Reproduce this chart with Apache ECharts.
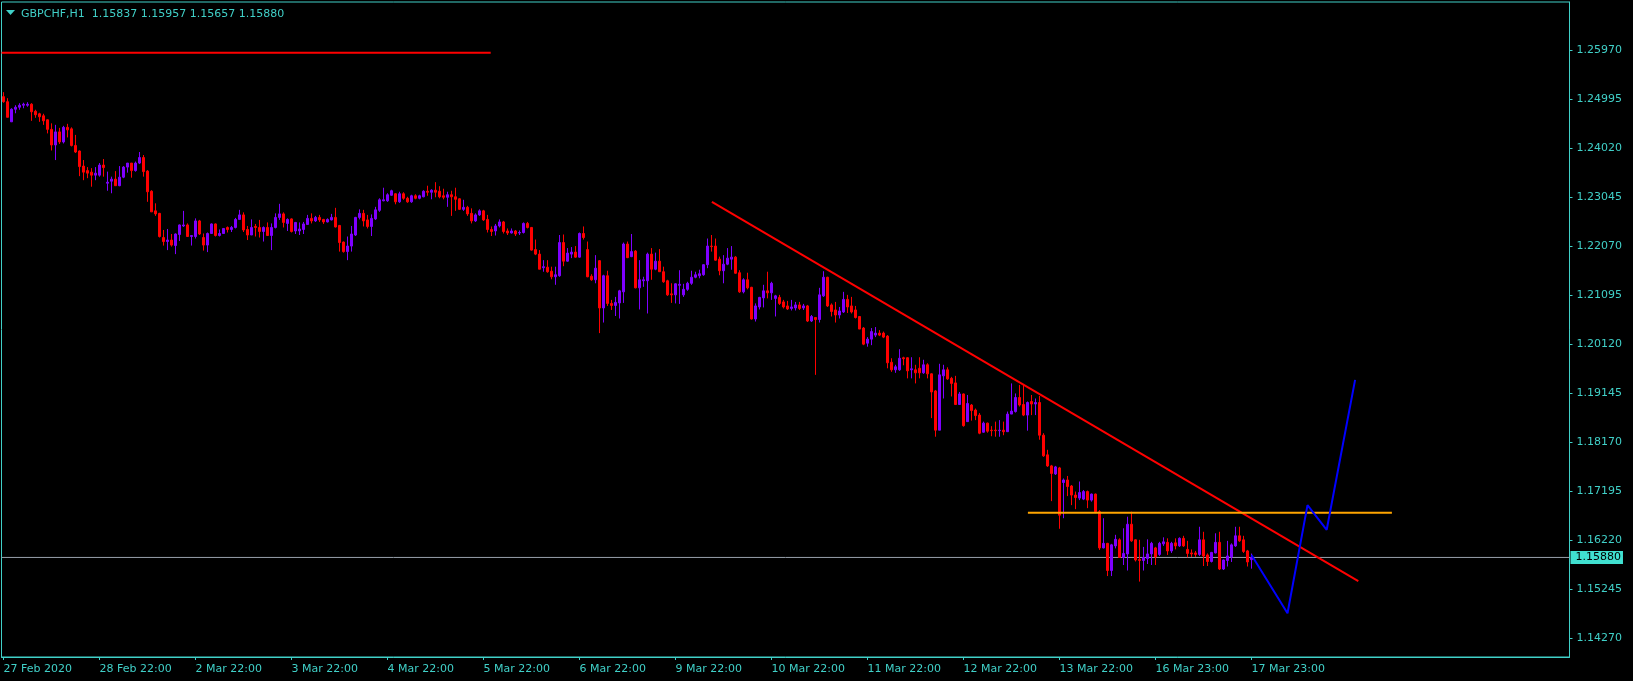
<!DOCTYPE html>
<html><head><meta charset="utf-8">
<script src="https://cdn.jsdelivr.net/npm/echarts@6/dist/echarts.min.js"></script>
<style>html,body{margin:0;padding:0;background:#000;}#c{width:1633px;height:681px;}</style>
</head><body><div id="c"></div>
<script>
// [open, close, low, high] per H1 bar
const ohlc = [
[1.2504,1.2494,1.2492,1.2513],[1.2494,1.2463,1.2463,1.2501],[1.2454,1.2479,1.2454,1.2481],[1.2479,1.2483,1.2471,1.2487],
[1.2483,1.2487,1.2478,1.2491],[1.2487,1.2489,1.2481,1.2492],[1.2487,1.2489,1.2484,1.2493],[1.2489,1.2474,1.2456,1.2491],
[1.2475,1.2468,1.2462,1.2478],[1.2470,1.2464,1.2454,1.2472],[1.2466,1.2456,1.2448,1.2470],[1.2458,1.2439,1.2431,1.2459],
[1.2439,1.2408,1.2397,1.2451],[1.2408,1.2434,1.2378,1.2448],[1.2434,1.2414,1.2410,1.2442],[1.2414,1.2443,1.2411,1.2446],
[1.2443,1.2438,1.2423,1.2450],[1.2440,1.2407,1.2405,1.2443],[1.2407,1.2394,1.2392,1.2428],[1.2396,1.2365,1.2346,1.2397],
[1.2366,1.2354,1.2338,1.2378],[1.2357,1.2352,1.2342,1.2364],[1.2354,1.2348,1.2325,1.2362],[1.2348,1.2352,1.2338,1.2364],
[1.2348,1.2368,1.2345,1.2372],[1.2368,1.2363,1.2345,1.2380],[1.2332,1.2334,1.2317,1.2355],[1.2336,1.2340,1.2312,1.2345],
[1.2340,1.2327,1.2327,1.2356],[1.2327,1.2344,1.2326,1.2366],[1.2344,1.2364,1.2342,1.2366],[1.2364,1.2372,1.2353,1.2372],
[1.2372,1.2357,1.2343,1.2372],[1.2357,1.2372,1.2355,1.2375],[1.2372,1.2383,1.2370,1.2394],[1.2383,1.2355,1.2345,1.2388],
[1.2356,1.2315,1.2295,1.2358],[1.2316,1.2275,1.2275,1.2318],[1.2277,1.2271,1.2267,1.2292],[1.2272,1.2226,1.2224,1.2273],
[1.2224,1.2216,1.2208,1.2239],[1.2216,1.2219,1.2199,1.2241],[1.2219,1.2209,1.2206,1.2231],[1.2208,1.2231,1.2191,1.2232],
[1.2230,1.2249,1.2217,1.2250],[1.2247,1.2249,1.2245,1.2277],[1.2249,1.2226,1.2226,1.2252],[1.2226,1.2228,1.2208,1.2229],
[1.2226,1.2257,1.2222,1.2262],[1.2257,1.2231,1.2229,1.2259],[1.2224,1.2209,1.2198,1.2232],[1.2209,1.2232,1.2195,1.2234],
[1.2232,1.2251,1.2231,1.2252],[1.2251,1.2228,1.2226,1.2252],[1.2228,1.2232,1.2226,1.2240],[1.2232,1.2242,1.2231,1.2242],
[1.2244,1.2240,1.2234,1.2246],[1.2240,1.2244,1.2235,1.2247],[1.2244,1.2260,1.2242,1.2263],[1.2260,1.2269,1.2260,1.2279],
[1.2269,1.2239,1.2235,1.2274],[1.2240,1.2229,1.2219,1.2247],[1.2229,1.2244,1.2229,1.2260],[1.2246,1.2244,1.2226,1.2251],
[1.2244,1.2236,1.2224,1.2259],[1.2236,1.2244,1.2216,1.2246],[1.2244,1.2228,1.2228,1.2254],[1.2228,1.2244,1.2199,1.2252],
[1.2244,1.2264,1.2242,1.2272],[1.2264,1.2271,1.2259,1.2291],[1.2271,1.2254,1.2244,1.2274],[1.2252,1.2260,1.2237,1.2262],
[1.2261,1.2236,1.2234,1.2262],[1.2237,1.2254,1.2231,1.2255],[1.2237,1.2241,1.2229,1.2254],[1.2240,1.2251,1.2231,1.2255],
[1.2250,1.2262,1.2249,1.2269],[1.2262,1.2257,1.2252,1.2272],[1.2257,1.2264,1.2255,1.2267],[1.2264,1.2259,1.2255,1.2269],
[1.2260,1.2255,1.2251,1.2261],[1.2255,1.2260,1.2254,1.2262],[1.2259,1.2264,1.2258,1.2271],[1.2264,1.2245,1.2244,1.2283],
[1.2248,1.2214,1.2196,1.2249],[1.2215,1.2196,1.2194,1.2216],[1.2196,1.2207,1.2179,1.2226],[1.2207,1.2231,1.2196,1.2247],
[1.2229,1.2264,1.2227,1.2265],[1.2264,1.2272,1.2260,1.2280],[1.2272,1.2257,1.2246,1.2279],[1.2259,1.2246,1.2242,1.2269],
[1.2246,1.2262,1.2227,1.2270],[1.2261,1.2279,1.2259,1.2285],[1.2278,1.2299,1.2275,1.2302],[1.2297,1.2299,1.2296,1.2323],
[1.2297,1.2309,1.2295,1.2312],[1.2308,1.2317,1.2307,1.2319],[1.2311,1.2295,1.2290,1.2312],[1.2295,1.2311,1.2293,1.2315],
[1.2311,1.2302,1.2299,1.2314],[1.2302,1.2295,1.2293,1.2305],[1.2295,1.2307,1.2293,1.2309],[1.2307,1.2302,1.2300,1.2310],
[1.2302,1.2307,1.2300,1.2309],[1.2305,1.2316,1.2304,1.2318],[1.2316,1.2314,1.2307,1.2327],[1.2314,1.2318,1.2300,1.2320],
[1.2318,1.2314,1.2304,1.2334],[1.2316,1.2305,1.2302,1.2326],[1.2307,1.2304,1.2300,1.2321],[1.2304,1.2309,1.2285,1.2315],
[1.2309,1.2305,1.2267,1.2317],[1.2305,1.2300,1.2277,1.2323],[1.2301,1.2280,1.2279,1.2302],[1.2280,1.2284,1.2277,1.2299],
[1.2284,1.2271,1.2267,1.2287],[1.2272,1.2257,1.2252,1.2282],[1.2257,1.2269,1.2255,1.2272],[1.2269,1.2277,1.2267,1.2280],
[1.2277,1.2259,1.2257,1.2279],[1.2260,1.2240,1.2234,1.2269],[1.2240,1.2236,1.2227,1.2246],[1.2237,1.2247,1.2228,1.2251],
[1.2247,1.2255,1.2244,1.2260],[1.2255,1.2236,1.2232,1.2257],[1.2237,1.2233,1.2229,1.2242],[1.2233,1.2237,1.2232,1.2242],
[1.2237,1.2231,1.2227,1.2239],[1.2233,1.2234,1.2229,1.2238],[1.2234,1.2252,1.2232,1.2254],[1.2252,1.2244,1.2242,1.2255],
[1.2244,1.2199,1.2198,1.2245],[1.2200,1.2191,1.2189,1.2220],[1.2191,1.2161,1.2161,1.2199],[1.2164,1.2166,1.2156,1.2179],
[1.2165,1.2156,1.2154,1.2179],[1.2157,1.2146,1.2141,1.2166],[1.2146,1.2150,1.2130,1.2166],[1.2148,1.2214,1.2146,1.2229],
[1.2214,1.2177,1.2167,1.2230],[1.2177,1.2193,1.2176,1.2203],[1.2191,1.2195,1.2183,1.2205],[1.2195,1.2185,1.2184,1.2207],
[1.2185,1.2232,1.2184,1.2234],[1.2232,1.2224,1.2220,1.2246],[1.2200,1.2146,1.2145,1.2216],[1.2147,1.2140,1.2138,1.2151],
[1.2140,1.2163,1.2133,1.2189],[1.2178,1.2084,1.2034,1.2179],[1.2084,1.2148,1.2055,1.2150],[1.2148,1.2093,1.2088,1.2158],
[1.2093,1.2089,1.2080,1.2100],[1.2089,1.2095,1.2068,1.2106],[1.2094,1.2118,1.2063,1.2120],[1.2116,1.2211,1.2094,1.2214],
[1.2211,1.2184,1.2183,1.2216],[1.2186,1.2196,1.2185,1.2231],[1.2197,1.2124,1.2123,1.2199],[1.2124,1.2140,1.2081,1.2179],
[1.2138,1.2140,1.2126,1.2146],[1.2138,1.2191,1.2073,1.2194],[1.2191,1.2161,1.2140,1.2203],[1.2161,1.2177,1.2159,1.2194],
[1.2177,1.2156,1.2156,1.2201],[1.2156,1.2136,1.2134,1.2166],[1.2138,1.2110,1.2108,1.2140],[1.2112,1.2110,1.2094,1.2133],
[1.2110,1.2132,1.2093,1.2133],[1.2129,1.2131,1.2092,1.2159],[1.2110,1.2121,1.2106,1.2132],[1.2121,1.2133,1.2118,1.2136],
[1.2133,1.2145,1.2130,1.2158],[1.2145,1.2150,1.2143,1.2156],[1.2148,1.2152,1.2143,1.2160],[1.2150,1.2170,1.2148,1.2171],
[1.2170,1.2207,1.2163,1.2222],[1.2207,1.2206,1.2196,1.2229],[1.2207,1.2179,1.2178,1.2222],[1.2181,1.2158,1.2149,1.2186],
[1.2158,1.2171,1.2133,1.2189],[1.2171,1.2183,1.2169,1.2203],[1.2181,1.2185,1.2160,1.2207],[1.2185,1.2153,1.2152,1.2187],
[1.2154,1.2116,1.2114,1.2159],[1.2116,1.2140,1.2113,1.2143],[1.2140,1.2124,1.2121,1.2154],[1.2125,1.2062,1.2061,1.2126],
[1.2062,1.2088,1.2057,1.2093],[1.2086,1.2105,1.2081,1.2106],[1.2104,1.2118,1.2085,1.2130],[1.2118,1.2114,1.2103,1.2156],
[1.2114,1.2133,1.2100,1.2136],[1.2103,1.2108,1.2067,1.2110],[1.2105,1.2093,1.2090,1.2110],[1.2096,1.2086,1.2083,1.2100],
[1.2088,1.2082,1.2080,1.2098],[1.2083,1.2086,1.2079,1.2100],[1.2084,1.2090,1.2079,1.2096],[1.2090,1.2083,1.2080,1.2096],
[1.2084,1.2088,1.2080,1.2092],[1.2088,1.2058,1.2056,1.2090],[1.2058,1.2067,1.2056,1.2070],[1.2065,1.2061,1.1951,1.2066],
[1.2061,1.2110,1.2055,1.2124],[1.2108,1.2145,1.2106,1.2157],[1.2145,1.2088,1.2086,1.2146],[1.2090,1.2077,1.2067,1.2093],
[1.2080,1.2070,1.2055,1.2096],[1.2070,1.2078,1.2063,1.2086],[1.2076,1.2101,1.2074,1.2116],[1.2101,1.2086,1.2074,1.2110],
[1.2088,1.2076,1.2073,1.2106],[1.2080,1.2065,1.2063,1.2088],[1.2067,1.2042,1.2042,1.2068],[1.2044,1.2012,1.2010,1.2046],
[1.2014,1.2022,1.2007,1.2026],[1.2022,1.2037,1.2010,1.2044],[1.2030,1.2034,1.2026,1.2046],[1.2034,1.2030,1.2028,1.2040],
[1.2034,1.2026,1.2024,1.2037],[1.2028,1.1975,1.1964,1.2030],[1.1976,1.1961,1.1957,1.1984],[1.1961,1.1967,1.1955,1.1971],
[1.1961,1.1984,1.1959,1.2002],[1.1985,1.1983,1.1970,1.1987],[1.1985,1.1959,1.1944,1.1986],[1.1961,1.1963,1.1944,1.1986],
[1.1961,1.1955,1.1934,1.1971],[1.1964,1.1955,1.1944,1.1986],[1.1955,1.1971,1.1953,1.1981],[1.1971,1.1953,1.1944,1.1974],
[1.1953,1.1917,1.1865,1.1954],[1.1919,1.1841,1.1828,1.1921],[1.1841,1.1951,1.1841,1.1973],[1.1949,1.1961,1.1904,1.1971],
[1.1961,1.1943,1.1941,1.1966],[1.1944,1.1934,1.1908,1.1947],[1.1935,1.1892,1.1891,1.1949],[1.1892,1.1913,1.1891,1.1917],
[1.1913,1.1850,1.1848,1.1914],[1.1858,1.1894,1.1858,1.1911],[1.1891,1.1880,1.1860,1.1893],[1.1881,1.1870,1.1861,1.1884],
[1.1871,1.1835,1.1833,1.1875],[1.1837,1.1855,1.1836,1.1858],[1.1855,1.1839,1.1836,1.1856],[1.1841,1.1840,1.1829,1.1849],
[1.1841,1.1840,1.1828,1.1858],[1.1840,1.1841,1.1828,1.1861],[1.1841,1.1838,1.1831,1.1858],[1.1838,1.1873,1.1838,1.1878],
[1.1873,1.1879,1.1873,1.1934],[1.1878,1.1906,1.1876,1.1914],[1.1906,1.1891,1.1888,1.1931],[1.1892,1.1871,1.1869,1.1931],
[1.1871,1.1896,1.1840,1.1898],[1.1898,1.1893,1.1871,1.1911],[1.1893,1.1896,1.1871,1.1904],[1.1896,1.1831,1.1822,1.1909],
[1.1831,1.1790,1.1788,1.1835],[1.1792,1.1770,1.1768,1.1802],[1.1770,1.1755,1.1700,1.1772],[1.1754,1.1768,1.1752,1.1770],
[1.1766,1.1672,1.1645,1.1768],[1.1737,1.1742,1.1666,1.1745],[1.1742,1.1729,1.1710,1.1750],[1.1730,1.1712,1.1692,1.1732],
[1.1712,1.1707,1.1684,1.1719],[1.1706,1.1717,1.1702,1.1739],[1.1704,1.1719,1.1702,1.1722],[1.1719,1.1702,1.1686,1.1721],
[1.1702,1.1714,1.1699,1.1715],[1.1714,1.1679,1.1676,1.1715],[1.1679,1.1607,1.1603,1.1682],[1.1607,1.1616,1.1606,1.1666],
[1.1616,1.1562,1.1551,1.1617],[1.1562,1.1613,1.1551,1.1615],[1.1611,1.1624,1.1606,1.1633],[1.1623,1.1588,1.1588,1.1626],
[1.1588,1.1596,1.1573,1.1646],[1.1595,1.1654,1.1562,1.1669],[1.1654,1.1621,1.1619,1.1679],[1.1623,1.1583,1.1580,1.1624],
[1.1584,1.1582,1.1540,1.1623],[1.1582,1.1588,1.1562,1.1609],[1.1586,1.1595,1.1575,1.1624],[1.1595,1.1616,1.1573,1.1619],
[1.1607,1.1589,1.1573,1.1609],[1.1594,1.1616,1.1591,1.1619],[1.1615,1.1619,1.1611,1.1628],[1.1618,1.1601,1.1593,1.1626],
[1.1601,1.1616,1.1597,1.1619],[1.1617,1.1611,1.1604,1.1626],[1.1611,1.1626,1.1609,1.1628],[1.1626,1.1611,1.1609,1.1631],
[1.1604,1.1596,1.1588,1.1621],[1.1597,1.1595,1.1589,1.1604],[1.1597,1.1594,1.1589,1.1601],[1.1594,1.1623,1.1591,1.1649],
[1.1623,1.1591,1.1571,1.1639],[1.1593,1.1580,1.1571,1.1596],[1.1580,1.1598,1.1578,1.1599],[1.1597,1.1618,1.1596,1.1636],
[1.1618,1.1565,1.1563,1.1639],[1.1565,1.1583,1.1563,1.1584],[1.1582,1.1591,1.1570,1.1621],[1.1589,1.1613,1.1579,1.1616],
[1.1611,1.1631,1.1609,1.1649],[1.1631,1.1621,1.1619,1.1649],[1.1623,1.1600,1.1597,1.1631],[1.1601,1.1579,1.1570,1.1603],
[1.15837,1.15880,1.15657,1.15957]
];
const slotCount = 392;                 // bar slots on the time axis (incl. empty future space)
const tickIdx = [0,24,48,72,96,120,144,168,192,216,240,264,288,312];
const tickText = ['27 Feb 2020','28 Feb 22:00','2 Mar 22:00','3 Mar 22:00','4 Mar 22:00','5 Mar 22:00','6 Mar 22:00','9 Mar 22:00','10 Mar 22:00','11 Mar 22:00','12 Mar 22:00','13 Mar 22:00','16 Mar 23:00','17 Mar 23:00'];
const priceTicks = [1.14270,1.15245,1.16220,1.17195,1.18170,1.19145,1.20120,1.21095,1.22070,1.23045,1.24020,1.24995,1.25970];
const yMin = 1.13901, yMax = 1.26922;
const bidPrice = 1.15880;
const header = 'GBPCHF,H1  1.15837 1.15957 1.15657 1.15880';
// drawn objects: [barIndex, price]
const topLevel = [[-0.5,1.25914],[121.8,1.25914]];
const trendLine = [[177.1,1.2295],[338.7,1.1541]];
const orangeLevel = [[256.1,1.16770],[347.1,1.16770]];
const projection = [[312,1.1593],[321.0,1.1477],[326.0,1.1692],[330.8,1.1643],[337.9,1.1941]];
const bidLine = [[-0.5,bidPrice],[391.5,bidPrice]];

const categories = [];
for (let i = 0; i < slotCount; i++) categories.push(String(i));

const FG = '#40d0c8';
const FONT = 'DejaVu Sans';
const chart = echarts.init(document.getElementById('c'), null, {renderer: 'canvas'});
chart.setOption({
  backgroundColor: '#000000',
  animation: false,
  textStyle: {fontFamily: FONT},
  grid: {left: 1.5, right: 63.5, top: 2, bottom: 24, show: true, borderColor: FG, borderWidth: 1, backgroundColor: 'transparent'},
  xAxis: [{
    type: 'category', data: categories, boundaryGap: true,
    axisLine: {show: true, onZero: false, lineStyle: {color: FG, width: 1}},
    axisTick: {show: true, alignWithLabel: true, length: 3, lineStyle: {color: FG},
      interval: (i) => tickIdx.indexOf(i) >= 0},
    axisLabel: {show: true, color: FG, fontFamily: FONT, fontSize: 11, align: 'left', margin: 7,
      interval: (i) => tickIdx.indexOf(i) >= 0,
      formatter: (v, i) => { const k = tickIdx.indexOf(i); return k >= 0 ? tickText[k] : ''; }},
    splitLine: {show: false}
  }, {
    type: 'value', min: -0.5, max: slotCount - 0.5, show: false,
    axisLine: {onZero: false}
  }],
  yAxis: {
    type: 'value', position: 'right', min: yMin, max: yMax, scale: true,
    axisLine: {show: true, onZero: false, lineStyle: {color: FG, width: 1}},
    axisTick: {show: true, length: 3, lineStyle: {color: FG}, customValues: priceTicks},
    axisLabel: {show: true, color: FG, fontFamily: FONT, fontSize: 11, margin: 7, padding: [4, 0, 0, 0],
      customValues: priceTicks, formatter: (v) => v.toFixed(5)},
    splitLine: {show: false}
  },
  series: [{
    type: 'line', xAxisIndex: 1, data: bidLine, symbol: 'none', silent: true,
    lineStyle: {color: '#97a0aa', width: 1}, z: 1,
    endLabel: {show: true, distance: 1, formatter: () => bidPrice.toFixed(5),
      backgroundColor: '#40e0d0', color: '#000000', fontFamily: FONT, fontSize: 11, padding: [2, 2, 0, 5]}
  }, {
    type: 'candlestick', xAxisIndex: 0, data: ohlc, barWidth: 2,
    itemStyle: {color: '#7f00ff', color0: '#ff0000', borderColor: '#7f00ff', borderColor0: '#ff0000', borderWidth: 1},
    z: 2
  }, {
    type: 'line', xAxisIndex: 1, data: topLevel, symbol: 'none', silent: true,
    lineStyle: {color: '#ff0000', width: 2}, z: 3
  }, {
    type: 'line', xAxisIndex: 1, data: trendLine, symbol: 'none', silent: true,
    lineStyle: {color: '#ff0000', width: 2}, z: 3
  }, {
    type: 'line', xAxisIndex: 1, data: orangeLevel, symbol: 'none', silent: true,
    lineStyle: {color: '#ffa500', width: 2}, z: 3
  }, {
    type: 'line', xAxisIndex: 1, data: projection, symbol: 'none', silent: true,
    lineStyle: {color: '#0000ff', width: 2}, z: 3
  }],
  graphic: [{
    type: 'polygon', shape: {points: [[6, 10], [15, 10], [10.5, 15]]}, style: {fill: FG}, silent: true
  }, {
    type: 'text', left: 21, top: 9, silent: true,
    style: {text: header, fill: FG, font: '11px "DejaVu Sans"'}
  }]
});
</script></body></html>
